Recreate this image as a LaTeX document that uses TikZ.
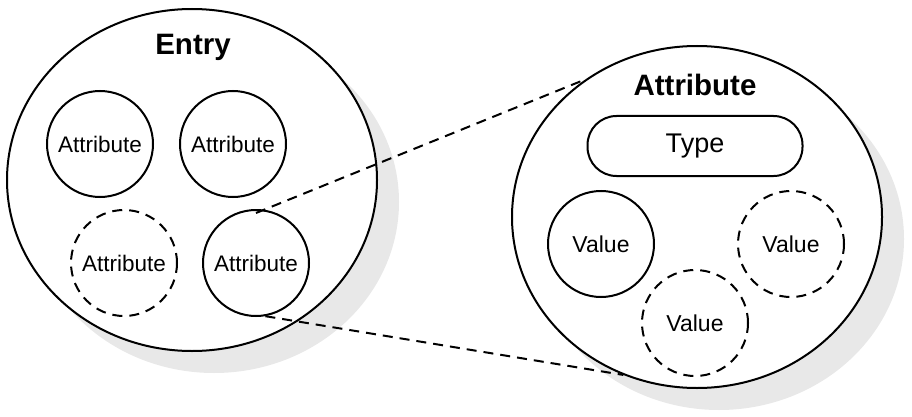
\documentclass[tikz,border=0pt]{standalone}
\usepackage{fontspec}
\setmainfont{Liberation Sans}
\usetikzlibrary{shapes.geometric}
\tikzset{
  bigell/.style={ellipse, draw=black, line width=2pt, fill=white, minimum width=370pt, minimum height=342pt, inner sep=0pt},
  shadowell/.style={ellipse, fill=black!9, minimum width=370pt, minimum height=342pt, inner sep=0pt},
  title/.style={font=\bfseries\fontsize{29.5}{32}\selectfont, inner sep=0pt},
  attr/.style={circle, draw=black, line width=2pt, minimum size=106pt, inner sep=0pt, font=\fontsize{22.5}{26}\selectfont},
  val/.style={circle, draw=black, line width=2pt, minimum size=106pt, inner sep=0pt, font=\fontsize{23}{26}\selectfont},
  optional/.style={dash pattern=on 10pt off 7pt},
  typebox/.style={rectangle, rounded corners=29pt, draw=black, line width=2pt, minimum width=215pt, minimum height=60pt, inner sep=0pt, font=\fontsize{27}{30}\selectfont},
  link/.style={draw=black, line width=2pt, dash pattern=on 10pt off 7pt}
}
\begin{document}
\begin{tikzpicture}[x=1pt, y=-1pt]
\useasboundingbox (0,0) rectangle (912,417);
% shadows
\node[shadowell] (entryshadow) at (214,202) {};
\node[shadowell] (attrshadow) at (719,239) {};
% big ellipses
\node[bigell] (entry) at (192,180) {};
\node[bigell] (rattr) at (697,217) {};
% titles
\node[title] (entrytitle) at (193,47) {Entry};
\node[title] (rattrtitle) at (695,85) {Attribute};
% left attributes
\node[attr] (a1) at (100,144) {Attribute};
\node[attr] (a2) at (233,144) {Attribute};
\node[attr, optional] (a3) at (124,263) {Attribute};
\node[attr] (a4) at (256,263) {Attribute};
% right content
\node[typebox] (type) at (695,146) {Type};
\node[val] (v1) at (601,244) {Value};
\node[val, optional] (v2) at (791,244) {Value};
\node[val, optional] (v3) at (695,323) {Value};
% connectors
\draw[link] ([yshift=-4pt]a4.north) -- (rattr.129);
\draw[link] (a4.-80) -- (rattr.-115);
\end{tikzpicture}
\end{document}
